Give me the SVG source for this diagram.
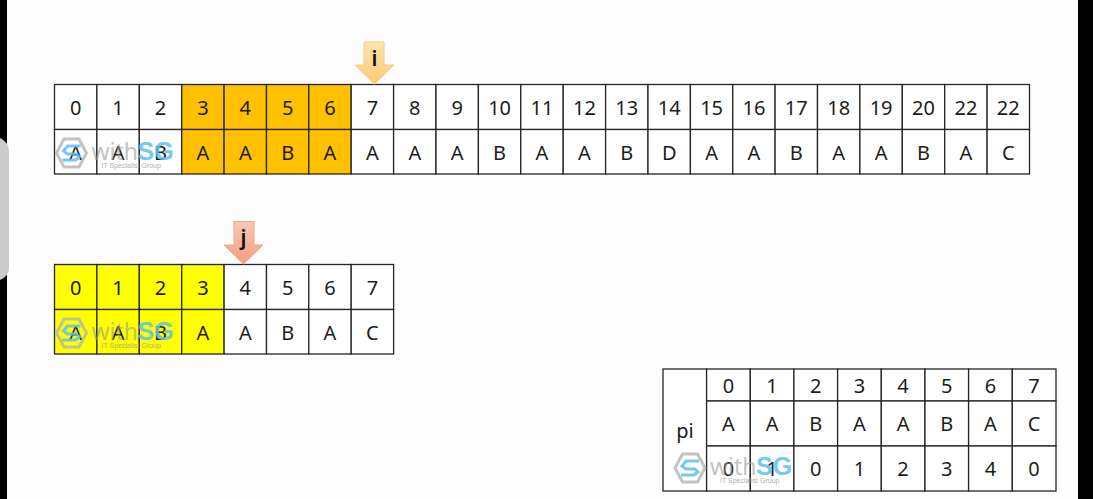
<svg xmlns="http://www.w3.org/2000/svg" width="1093" height="499" viewBox="0 0 1093 499">
<style>
.t{font-family:"Noto Sans","DejaVu Sans",sans-serif;font-size:20px;fill:#1c1c1c;text-anchor:middle}
.c{fill:#fff;stroke:#262626;stroke-width:1.3}
.o{fill:#ffc000;stroke:#262626;stroke-width:1.3}
.y{fill:#ffff00;stroke:#262626;stroke-width:1.3}
.w{font-family:"Noto Sans","DejaVu Sans",sans-serif;font-size:23px;fill:#9a9a9a;opacity:.6}
.s{font-family:"Liberation Sans",sans-serif;font-size:25px;font-weight:700;fill:#5fc0ee;opacity:.85}
.m{font-family:"Liberation Sans",sans-serif;font-size:7px;fill:#9a9a9a;opacity:.8}
.h{fill:none;stroke:#b4b4b4;stroke-width:3;opacity:.8}
.g{fill:none;stroke:#5fc0ee;stroke-width:3;opacity:.85}
.l{font-family:"Noto Sans","DejaVu Sans",sans-serif;font-size:21px;font-weight:600;fill:#111;text-anchor:middle}
</style>
<defs>
<linearGradient id="ga" x1="0" y1="0" x2="0" y2="1"><stop offset="0" stop-color="#fee4ae"/><stop offset="1" stop-color="#fccb74"/></linearGradient>
<linearGradient id="gb" x1="0" y1="0" x2="0" y2="1"><stop offset="0" stop-color="#f9c9b2"/><stop offset="1" stop-color="#f29e7e"/></linearGradient>
</defs>
<rect width="1093" height="499" fill="#fdfdfd"/>
<rect x="0" y="0" width="7" height="499" fill="#000"/>
<rect x="1078" y="0" width="15" height="499" fill="#000"/>
<path d="M0 138 Q9 142 9 152 V268 Q9 276 0 280 Z" fill="#cbcbcb"/>
<g id="text-table">
<g id="text-cells">
<rect class="c" x="54.5" y="84.5" width="42.4" height="45"/><rect class="c" x="96.9" y="84.5" width="42.4" height="45"/><rect class="c" x="139.3" y="84.5" width="42.4" height="45"/>
<rect class="o" x="181.7" y="84.5" width="42.4" height="45"/><rect class="o" x="224.1" y="84.5" width="42.4" height="45"/><rect class="o" x="266.5" y="84.5" width="42.4" height="45"/><rect class="o" x="308.8" y="84.5" width="42.4" height="45"/>
<rect class="c" x="351.2" y="84.5" width="42.4" height="45"/><rect class="c" x="393.6" y="84.5" width="42.4" height="45"/><rect class="c" x="436" y="84.5" width="42.4" height="45"/><rect class="c" x="478.4" y="84.5" width="42.4" height="45"/><rect class="c" x="520.8" y="84.5" width="42.4" height="45"/><rect class="c" x="563.2" y="84.5" width="42.4" height="45"/><rect class="c" x="605.6" y="84.5" width="42.4" height="45"/><rect class="c" x="648" y="84.5" width="42.4" height="45"/><rect class="c" x="690.4" y="84.5" width="42.4" height="45"/><rect class="c" x="732.8" y="84.5" width="42.4" height="45"/><rect class="c" x="775.1" y="84.5" width="42.4" height="45"/><rect class="c" x="817.5" y="84.5" width="42.4" height="45"/><rect class="c" x="859.9" y="84.5" width="42.4" height="45"/><rect class="c" x="902.3" y="84.5" width="42.4" height="45"/><rect class="c" x="944.7" y="84.5" width="42.4" height="45"/><rect class="c" x="987.1" y="84.5" width="42.4" height="45"/>
<rect class="c" x="54.5" y="129.5" width="42.4" height="44.5"/><rect class="c" x="96.9" y="129.5" width="42.4" height="44.5"/><rect class="c" x="139.3" y="129.5" width="42.4" height="44.5"/>
<rect class="o" x="181.7" y="129.5" width="42.4" height="44.5"/><rect class="o" x="224.1" y="129.5" width="42.4" height="44.5"/><rect class="o" x="266.5" y="129.5" width="42.4" height="44.5"/><rect class="o" x="308.8" y="129.5" width="42.4" height="44.5"/>
<rect class="c" x="351.2" y="129.5" width="42.4" height="44.5"/><rect class="c" x="393.6" y="129.5" width="42.4" height="44.5"/><rect class="c" x="436" y="129.5" width="42.4" height="44.5"/><rect class="c" x="478.4" y="129.5" width="42.4" height="44.5"/><rect class="c" x="520.8" y="129.5" width="42.4" height="44.5"/><rect class="c" x="563.2" y="129.5" width="42.4" height="44.5"/><rect class="c" x="605.6" y="129.5" width="42.4" height="44.5"/><rect class="c" x="648" y="129.5" width="42.4" height="44.5"/><rect class="c" x="690.4" y="129.5" width="42.4" height="44.5"/><rect class="c" x="732.8" y="129.5" width="42.4" height="44.5"/><rect class="c" x="775.1" y="129.5" width="42.4" height="44.5"/><rect class="c" x="817.5" y="129.5" width="42.4" height="44.5"/><rect class="c" x="859.9" y="129.5" width="42.4" height="44.5"/><rect class="c" x="902.3" y="129.5" width="42.4" height="44.5"/><rect class="c" x="944.7" y="129.5" width="42.4" height="44.5"/><rect class="c" x="987.1" y="129.5" width="42.4" height="44.5"/>
</g>
<g id="text-index">
<text class="t" x="75.7" y="115">0</text><text class="t" x="118.1" y="115">1</text><text class="t" x="160.5" y="115">2</text><text class="t" x="202.9" y="115">3</text><text class="t" x="245.3" y="115">4</text><text class="t" x="287.7" y="115">5</text><text class="t" x="330" y="115">6</text><text class="t" x="372.4" y="115">7</text><text class="t" x="414.8" y="115">8</text><text class="t" x="457.2" y="115">9</text><text class="t" x="499.6" y="115">10</text><text class="t" x="542" y="115">11</text><text class="t" x="584.4" y="115">12</text><text class="t" x="626.8" y="115">13</text><text class="t" x="669.2" y="115">14</text><text class="t" x="711.6" y="115">15</text><text class="t" x="754" y="115">16</text><text class="t" x="796.3" y="115">17</text><text class="t" x="838.7" y="115">18</text><text class="t" x="881.1" y="115">19</text><text class="t" x="923.5" y="115">20</text><text class="t" x="965.9" y="115">22</text><text class="t" x="1008.3" y="115">22</text>
</g>
<g id="text-chars">
<text class="t" x="75.7" y="160">A</text><text class="t" x="118.1" y="160">A</text><text class="t" x="160.5" y="160">B</text><text class="t" x="202.9" y="160">A</text><text class="t" x="245.3" y="160">A</text><text class="t" x="287.7" y="160">B</text><text class="t" x="330" y="160">A</text><text class="t" x="372.4" y="160">A</text><text class="t" x="414.8" y="160">A</text><text class="t" x="457.2" y="160">A</text><text class="t" x="499.6" y="160">B</text><text class="t" x="542" y="160">A</text><text class="t" x="584.4" y="160">A</text><text class="t" x="626.8" y="160">B</text><text class="t" x="669.2" y="160">D</text><text class="t" x="711.6" y="160">A</text><text class="t" x="754" y="160">A</text><text class="t" x="796.3" y="160">B</text><text class="t" x="838.7" y="160">A</text><text class="t" x="881.1" y="160">A</text><text class="t" x="923.5" y="160">B</text><text class="t" x="965.9" y="160">A</text><text class="t" x="1008.3" y="160">C</text>
</g>
</g>
<g id="pattern-table">
<rect class="y" x="54.5" y="264.5" width="42.4" height="45"/><rect class="y" x="96.9" y="264.5" width="42.4" height="45"/><rect class="y" x="139.3" y="264.5" width="42.4" height="45"/><rect class="y" x="181.7" y="264.5" width="42.4" height="45"/>
<rect class="c" x="224.1" y="264.5" width="42.4" height="45"/><rect class="c" x="266.5" y="264.5" width="42.4" height="45"/><rect class="c" x="308.8" y="264.5" width="42.4" height="45"/><rect class="c" x="351.2" y="264.5" width="42.4" height="45"/>
<rect class="y" x="54.5" y="309.5" width="42.4" height="44.5"/><rect class="y" x="96.9" y="309.5" width="42.4" height="44.5"/><rect class="y" x="139.3" y="309.5" width="42.4" height="44.5"/><rect class="y" x="181.7" y="309.5" width="42.4" height="44.5"/>
<rect class="c" x="224.1" y="309.5" width="42.4" height="44.5"/><rect class="c" x="266.5" y="309.5" width="42.4" height="44.5"/><rect class="c" x="308.8" y="309.5" width="42.4" height="44.5"/><rect class="c" x="351.2" y="309.5" width="42.4" height="44.5"/>
<text class="t" x="75.7" y="295">0</text><text class="t" x="118.1" y="295">1</text><text class="t" x="160.5" y="295">2</text><text class="t" x="202.9" y="295">3</text><text class="t" x="245.3" y="295">4</text><text class="t" x="287.7" y="295">5</text><text class="t" x="330" y="295">6</text><text class="t" x="372.4" y="295">7</text>
<text class="t" x="75.7" y="340">A</text><text class="t" x="118.1" y="340">A</text><text class="t" x="160.5" y="340">B</text><text class="t" x="202.9" y="340">A</text><text class="t" x="245.3" y="340">A</text><text class="t" x="287.7" y="340">B</text><text class="t" x="330" y="340">A</text><text class="t" x="372.4" y="340">C</text>
</g>
<g id="pi-table">
<rect class="c" x="663" y="369" width="43.6" height="122"/>
<rect class="c" x="706.6" y="369" width="43.7" height="32"/><rect class="c" x="750.3" y="369" width="43.6" height="32"/><rect class="c" x="793.9" y="369" width="43.7" height="32"/><rect class="c" x="837.6" y="369" width="43.7" height="32"/><rect class="c" x="881.3" y="369" width="43.7" height="32"/><rect class="c" x="925" y="369" width="43.6" height="32"/><rect class="c" x="968.6" y="369" width="43.7" height="32"/><rect class="c" x="1012.3" y="369" width="43.7" height="32"/>
<rect class="c" x="706.6" y="401" width="43.7" height="45"/><rect class="c" x="750.3" y="401" width="43.6" height="45"/><rect class="c" x="793.9" y="401" width="43.7" height="45"/><rect class="c" x="837.6" y="401" width="43.7" height="45"/><rect class="c" x="881.3" y="401" width="43.7" height="45"/><rect class="c" x="925" y="401" width="43.6" height="45"/><rect class="c" x="968.6" y="401" width="43.7" height="45"/><rect class="c" x="1012.3" y="401" width="43.7" height="45"/>
<rect class="c" x="706.6" y="446" width="43.7" height="45"/><rect class="c" x="750.3" y="446" width="43.6" height="45"/><rect class="c" x="793.9" y="446" width="43.7" height="45"/><rect class="c" x="837.6" y="446" width="43.7" height="45"/><rect class="c" x="881.3" y="446" width="43.7" height="45"/><rect class="c" x="925" y="446" width="43.6" height="45"/><rect class="c" x="968.6" y="446" width="43.7" height="45"/><rect class="c" x="1012.3" y="446" width="43.7" height="45"/>
<text class="t" x="685" y="438">pi</text>
<text class="t" x="728.4" y="393">0</text><text class="t" x="772.1" y="393">1</text><text class="t" x="815.7" y="393">2</text><text class="t" x="859.4" y="393">3</text><text class="t" x="903.1" y="393">4</text><text class="t" x="946.8" y="393">5</text><text class="t" x="990.4" y="393">6</text><text class="t" x="1034.1" y="393">7</text>
<text class="t" x="728.4" y="431">A</text><text class="t" x="772.1" y="431">A</text><text class="t" x="815.7" y="431">B</text><text class="t" x="859.4" y="431">A</text><text class="t" x="903.1" y="431">A</text><text class="t" x="946.8" y="431">B</text><text class="t" x="990.4" y="431">A</text><text class="t" x="1034.1" y="431">C</text>
<text class="t" x="728.4" y="476">0</text><text class="t" x="772.1" y="476">1</text><text class="t" x="815.7" y="476">0</text><text class="t" x="859.4" y="476">1</text><text class="t" x="903.1" y="476">2</text><text class="t" x="946.8" y="476">3</text><text class="t" x="990.4" y="476">4</text><text class="t" x="1034.1" y="476">0</text>
</g>
<g id="pointer-i">
<path d="M364 42 H384 V65 H394 L374.5 84 L355 65 H364 Z" fill="url(#ga)" stroke="#f3c97e" stroke-width="1"/>
<text class="l" x="374.5" y="66">i</text>
</g>
<g id="pointer-j">
<path d="M234 221.500 H254 V245 H263 L243.500 264 L224 245 H234 Z" fill="url(#gb)" stroke="#eda68a" stroke-width="1"/>
<text class="l" x="243.500" y="245">j</text>
</g>
<g id="watermark-1" transform="translate(71.500 153)">
<path class="h" d="M-15 0 L-7.500 -14 H7.500 L15 0 L7.500 14 H-7.500 Z"/>
<path class="g" d="M9 -7 H-4 L-8 -2 L-4 1 H5 L8 4 L4 7 H-9"/>
<text class="w" x="20" y="7">with</text><text class="s" x="66" y="7">SG</text>
<text class="m" x="30" y="15">IT Specialist Group</text>
</g>
<g id="watermark-2" transform="translate(71.500 333)">
<path class="h" d="M-15 0 L-7.500 -14 H7.500 L15 0 L7.500 14 H-7.500 Z"/>
<path class="g" d="M9 -7 H-4 L-8 -2 L-4 1 H5 L8 4 L4 7 H-9"/>
<text class="w" x="20" y="7">with</text><text class="s" x="66" y="7">SG</text>
<text class="m" x="30" y="15">IT Specialist Group</text>
</g>
<g id="watermark-3" transform="translate(690 468)">
<path class="h" d="M-15 0 L-7.500 -14 H7.500 L15 0 L7.500 14 H-7.500 Z"/>
<path class="g" d="M9 -7 H-4 L-8 -2 L-4 1 H5 L8 4 L4 7 H-9"/>
<text class="w" x="20" y="7">with</text><text class="s" x="66" y="7">SG</text>
<text class="m" x="30" y="15">IT Specialist Group</text>
</g>
</svg>
